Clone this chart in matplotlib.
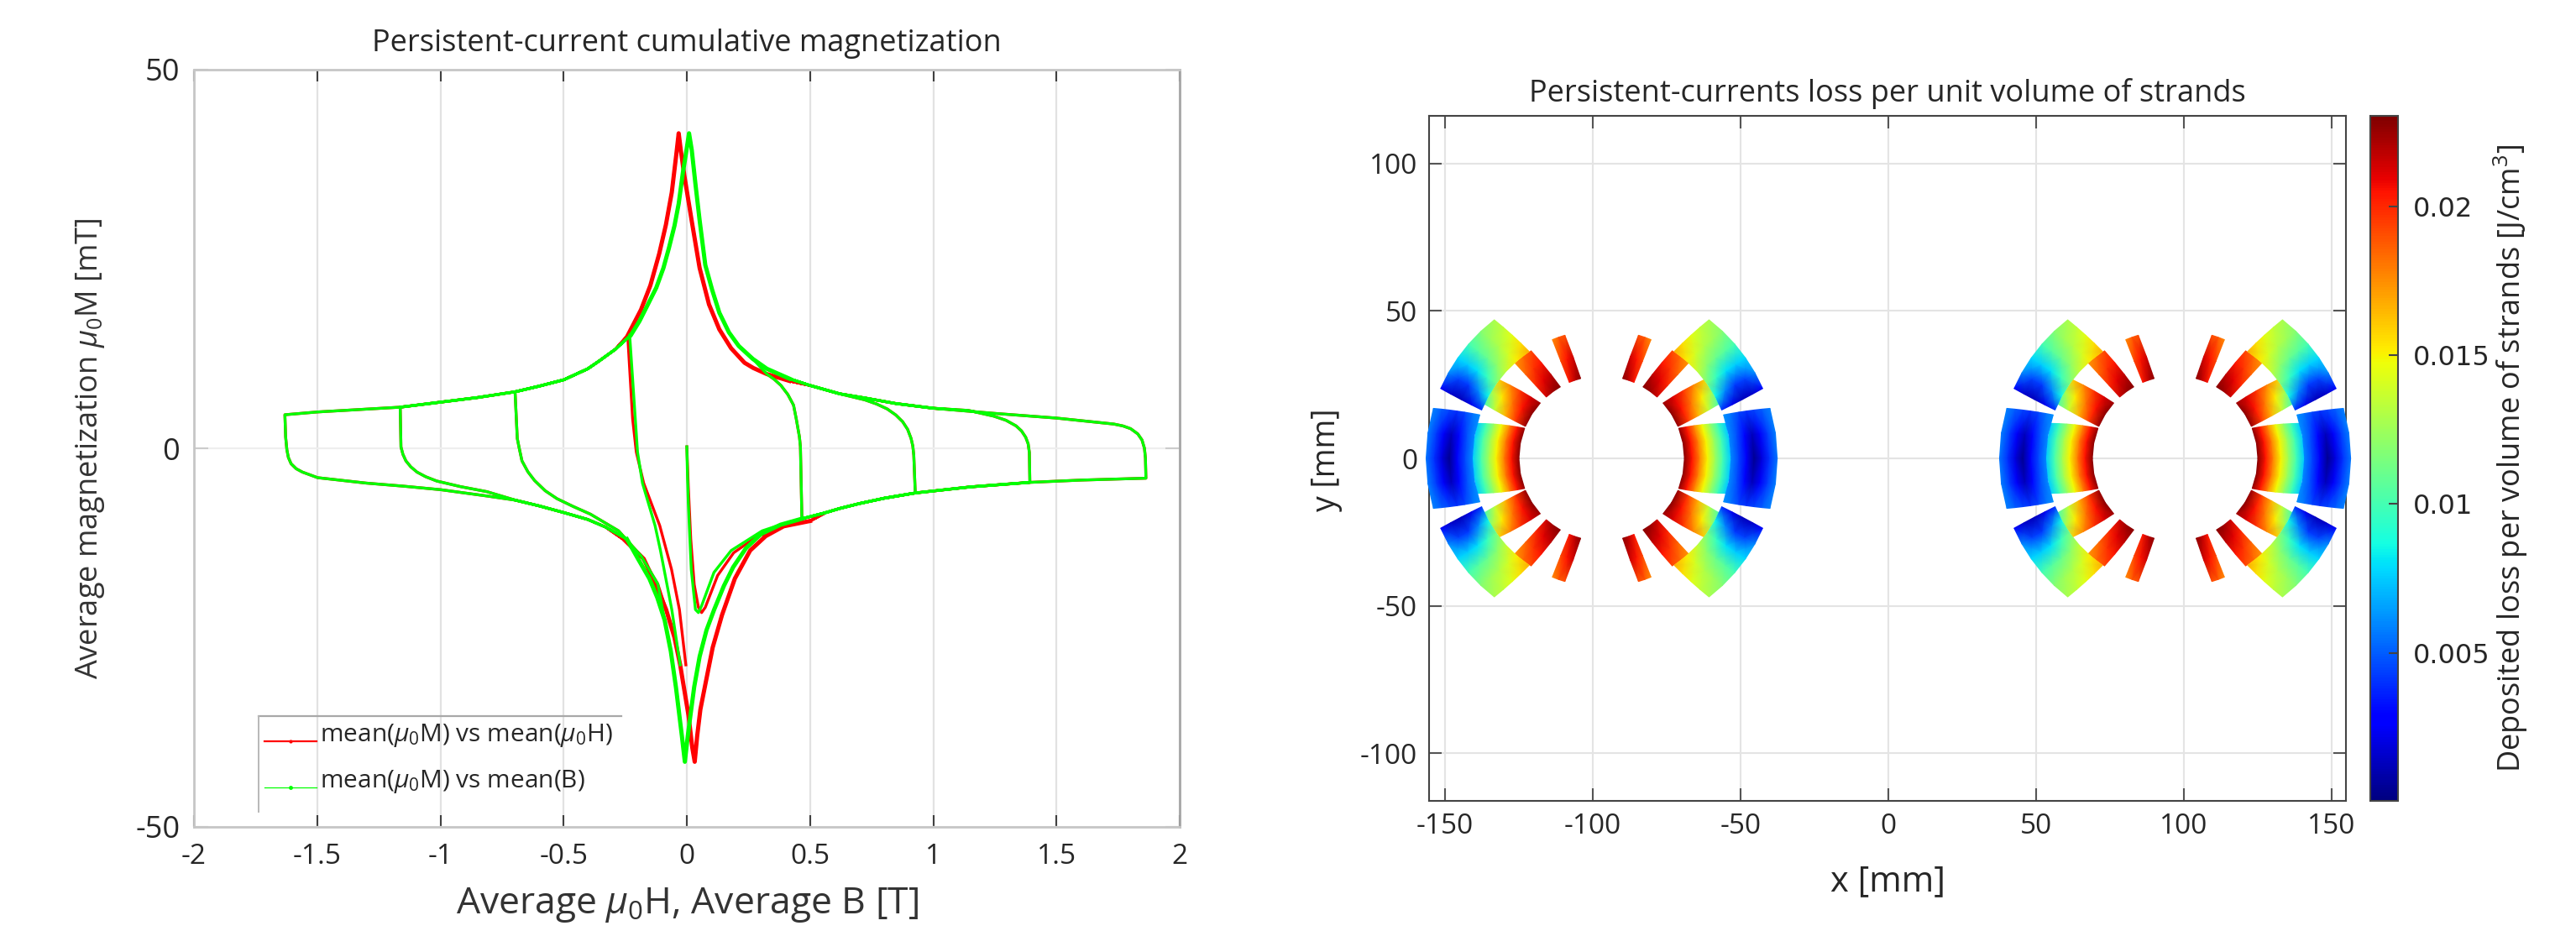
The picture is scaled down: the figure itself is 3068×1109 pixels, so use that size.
import numpy as np
import matplotlib
matplotlib.use('Agg')
import matplotlib.pyplot as plt
from matplotlib.ticker import FormatStrFormatter

plt.rcParams['font.family'] = ['Open Sans', 'DejaVu Sans']
plt.rcParams['axes.unicode_minus'] = False
plt.rcParams['mathtext.fontset'] = 'custom'
plt.rcParams['mathtext.rm'] = 'Open Sans'
plt.rcParams['mathtext.it'] = 'Open Sans:italic'
plt.rcParams['mathtext.default'] = 'regular'

W, H = 3068, 1109

# ---- magnetization loops [T], [mT]
# upper envelope, running right to left, outside the central peak
upper_right_x = [1.733, 1.5, 1.245, 1.0, 0.85, 0.722, 0.62, 0.5]
upper_right_y = [3.2, 3.99, 4.62, 5.29, 5.9, 6.65, 7.2, 8.3]
upper_left_x = [-0.289, -0.357, -0.402, -0.499, -0.6, -0.697, -0.85, -0.998, -1.163, -1.498, -1.631]
upper_left_y = [13.1, 11.5, 10.5, 9.05, 8.2, 7.46, 6.7, 6.1, 5.43, 4.8, 4.43]

# peak, right flank to left flank
peak_green_x = [0.416, 0.325, 0.268, 0.211, 0.171, 0.132, 0.103, 0.075, 0.052, 0.035, 0.02, 0.009, -0.005, -0.016,
                -0.033, -0.05, -0.073, -0.095, -0.124, -0.158, -0.192, -0.226]
peak_green_y = [9.2, 10.5, 11.8, 13.5, 15.3, 17.9, 20.9, 24.2, 30.1, 34.9, 39.4, 41.6, 38.6, 36.4,
                32.3, 29.4, 26.4, 23.8, 21.2, 19.0, 16.8, 15.0]
peak_red_x = [0.416, 0.325, 0.27, 0.234, 0.18, 0.132, 0.09, 0.052, 0.02, -0.01, -0.025, -0.033, -0.042, -0.061,
              -0.085, -0.112, -0.148, -0.186, -0.24]
peak_red_y = [8.9, 9.8, 10.6, 11.3, 13.2, 15.7, 19.0, 23.8, 30.0, 36.0, 39.5, 41.6, 39.0, 33.8,
              29.5, 25.7, 21.5, 18.3, 14.9]

# lower envelope, running left to right, outside the central valley
lower_left_x = [-1.498, -1.3, -1.15, -0.998, -0.811, -0.697, -0.6, -0.498, -0.402, -0.33]
lower_left_y = [-3.88, -4.6, -5.0, -5.47, -6.3, -6.84, -7.6, -8.5, -9.4, -10.4]
lower_right_x = [0.563, 0.62, 0.7, 0.8, 0.927, 1.15, 1.392, 1.6, 1.863]
lower_right_y = [-8.5, -7.95, -7.3, -6.6, -5.9, -5.1, -4.5, -4.2, -3.95]

# valley, left flank to right flank
valley_green_x = [-0.243, -0.198, -0.152, -0.12, -0.09, -0.065, -0.044, -0.02, -0.008, 0.002, 0.013, 0.03, 0.052,
                  0.08, 0.111, 0.15, 0.188, 0.24, 0.302, 0.38, 0.467]
valley_green_y = [-12.0, -14.6, -17.2, -19.7, -22.7, -26.8, -31.6, -38.0, -41.4, -38.5, -35.7, -31.5, -27.5,
                  -24.0, -21.3, -18.2, -15.7, -13.2, -11.3, -10.1, -9.3]
valley_red_x = [-0.25, -0.175, -0.13, -0.084, -0.05, -0.027, 0.007, 0.022, 0.032, 0.042, 0.055, 0.075, 0.105,
                0.143, 0.195, 0.257, 0.32, 0.393, 0.5]
valley_red_y = [-12.2, -14.6, -17.7, -21.3, -25.0, -28.6, -35.3, -39.5, -41.4, -38.0, -34.5, -31.2, -26.3,
                -22.0, -17.2, -13.5, -11.6, -10.3, -9.6]

# first magnetization up to the lower envelope
first_green_x = [0.0, 0.003, 0.006, 0.018, 0.035, 0.047, 0.06, 0.11, 0.18, 0.306]
first_green_y = [0.2, -4.0, -7.2, -16.0, -21.3, -21.7, -20.8, -16.4, -13.5, -10.9]
first_red_x = [0.0, 0.006, 0.016, 0.03, 0.047, 0.06, 0.075, 0.125, 0.19, 0.30]
first_red_y = [0.2, -5.0, -12.0, -18.0, -21.0, -21.7, -21.0, -16.8, -13.8, -11.3]

# reversal legs at each ramp end
leg_186_x = [1.863, 1.862, 1.861, 1.857, 1.847, 1.83, 1.801, 1.77, 1.733]
leg_186_y = [-3.95, -2.5, -1.3, 0.0, 1.1, 1.9, 2.59, 2.95, 3.2]
leg_139_x = [1.392, 1.39, 1.385, 1.375, 1.358, 1.336, 1.295, 1.245, 1.143]
leg_139_y = [-4.5, -0.55, 0.6, 1.47, 2.3, 2.96, 3.7, 4.25, 5.0]
leg_093_x = [0.927, 0.921, 0.917, 0.91, 0.896, 0.876, 0.848, 0.813, 0.77, 0.722]
leg_093_y = [-5.9, -0.92, 0.3, 1.3, 2.5, 3.5, 4.4, 5.2, 5.85, 6.4]
leg_047_x = [0.467, 0.461, 0.457, 0.444, 0.433, 0.41, 0.382, 0.355, 0.325]
leg_047_y = [-9.3, 0.2, 1.5, 3.9, 5.7, 7.1, 8.3, 9.1, 9.8]
leg_n163_x = [-1.631, -1.628, -1.623, -1.617, -1.606, -1.585, -1.56, -1.53, -1.498]
leg_n163_y = [4.43, 1.5, -0.18, -1.2, -2.03, -2.7, -3.14, -3.5, -3.88]
leg_n116_x = [-1.163, -1.16, -1.152, -1.14, -1.12, -1.095, -1.06, -1.015, -0.92, -0.811, -0.697]
leg_n116_y = [5.43, 0.18, -0.8, -1.66, -2.45, -3.14, -3.75, -4.32, -5.05, -5.73, -6.84]
leg_n070_x = [-0.697, -0.688, -0.68, -0.669, -0.645, -0.618, -0.575, -0.527, -0.46, -0.391, -0.277, -0.186, -0.118]
leg_n070_y = [7.46, 1.3, 0.0, -1.66, -3.1, -4.25, -5.6, -6.65, -7.7, -8.7, -10.9, -14.2, -17.9]
leg_n023_green_x = [-0.232, -0.209, -0.2, -0.18, -0.129, -0.107, -0.061, -0.027]
leg_n023_green_y = [15.0, 3.9, -0.5, -4.6, -10.2, -13.5, -21.3, -28.6]
leg_n023_red_x = [-0.24, -0.22, -0.205, -0.175, -0.11, -0.062, -0.03, -0.004]
leg_n023_red_y = [14.9, 3.9, -0.5, -4.6, -10.2, -16.0, -21.3, -28.6]

# ---- coil blocks, upper half of one half-aperture
# radii and block edge angles in mm and degrees from the midplane
inner_radii = (28.0, 43.6)
outer_radii = (43.8, 59.4)
block_a_angles = (0.0, 21.4, 0.0, 15.8)
block_b_angles = (22.8, 42.1, 24.9, 37.6)
block_c_angles = (48.0, 60.0, 47.8, 56.8)
block_d_angles = (67.0, 75.3, 67.5, 73.4)
block_e_angles = (0.0, 19.7, 0.0, 16.6)
block_f_angles = (22.0, 55.9, 23.5, 52.3)

# loss per unit volume, rows inner to outer radius, columns low to high angle
block_a_loss = [[.0228, .0228, .0226], [.0205, .0205, .0204], [.0178, .0178, .0176], [.0150, .0150, .0148],
                [.0125, .0125, .0122], [.0100, .0100, .0098], [.0075, .0075, .0075]]
block_b_loss = [[.0225, .0228, .0225], [.0195, .0205, .0212], [.0165, .0180, .0198], [.0135, .0152, .0178],
                [.0100, .0125, .0160]]
block_c_loss = [[.0215, .0225, .0229], [.0200, .0210, .0218], [.0185, .0197, .0205], [.0172, .0183, .0192]]
block_d_loss = [[.0205, .0218, .0228], [.0192, .0205, .0215], [.0175, .0188, .0190]]
block_e_loss = [[.0060, .0060, .0062], [.0045, .0047, .0055], [.0025, .0030, .0045], [.0004, .0012, .0040],
                [.0020, .0025, .0045], [.0040, .0043, .0050], [.0056, .0057, .0058]]
block_f_loss = [[.0040, .0085, .0115, .0135, .0152, .0168], [.0022, .0060, .0095, .0120, .0140, .0155],
                [.0012, .0042, .0080, .0110, .0130, .0145], [.0015, .0045, .0075, .0105, .0125, .0135],
                [.0030, .0060, .0078, .0100, .0118, .0128]]

aperture_x = [-97.0, 97.0]
loss_limits = (0.00003, 0.02304)

green = '#00ff00'
red = '#ff0000'


def ax_px(x0, y0, x1, y1):
    return fig.add_axes([x0 / W, 1 - y1 / H, (x1 - x0) / W, (y1 - y0) / H])


def loop_path(first, upper_r, peak, upper_l, lower_l, valley, lower_r, legs, last):
    """walk the ramps of decreasing amplitude and join the branches"""
    up_x = np.array(upper_r[0] + peak[0] + upper_l[0])
    up_y = np.array(upper_r[1] + peak[1] + upper_l[1])
    low_x = np.array(lower_l[0] + valley[0] + lower_r[0])
    low_y = np.array(lower_l[1] + valley[1] + lower_r[1])
    xs, ys = [first[0]], [first[1]]
    start = first[0][-1]
    for i, leg in enumerate(legs + [last]):
        if i % 2 == 0:
            m = (low_x > start) & (low_x < leg[0][0])
        else:
            m = (up_x < start) & (up_x > leg[0][0])
        xs.append((low_x if i % 2 == 0 else up_x)[m])
        ys.append((low_y if i % 2 == 0 else up_y)[m])
        xs.append(leg[0])
        ys.append(leg[1])
        start = leg[0][-1]
    return np.concatenate(xs), np.concatenate(ys)


def draw_block(ax, cx, side, radii, angles, loss):
    loss = np.array(loss)
    nr, na = loss.shape
    for sy in (1, -1):
        rr = np.linspace(radii[0], radii[1], nr)
        s = (rr - radii[0]) / (radii[1] - radii[0])
        X = np.zeros((nr, na))
        Y = np.zeros((nr, na))
        for i in range(nr):
            lo = angles[0] + (angles[2] - angles[0]) * s[i]
            hi = angles[1] + (angles[3] - angles[1]) * s[i]
            a = np.radians(np.linspace(lo, hi, na))
            X[i] = cx + side * rr[i] * np.cos(a)
            Y[i] = sy * rr[i] * np.sin(a)
        mesh = ax.pcolormesh(X, Y, loss, shading='gouraud', cmap='jet',
                             vmin=loss_limits[0], vmax=loss_limits[1], zorder=3, clip_on=False)
    return mesh


fig = plt.figure(figsize=(W / 100, H / 100), dpi=100)

# ---- left panel
ax1 = ax_px(231, 83, 1405, 985)
wings = dict(upper_r=(upper_right_x, upper_right_y), upper_l=(upper_left_x, upper_left_y),
             lower_l=(lower_left_x, lower_left_y), lower_r=(lower_right_x, lower_right_y))
legs_all = [(leg_186_x, leg_186_y), (leg_n163_x, leg_n163_y), (leg_139_x, leg_139_y), (leg_n116_x, leg_n116_y),
            (leg_093_x, leg_093_y), (leg_n070_x, leg_n070_y), (leg_047_x, leg_047_y)]
rx, ry = loop_path((first_red_x, first_red_y), peak=(peak_red_x, peak_red_y), valley=(valley_red_x, valley_red_y),
                   legs=legs_all, last=(leg_n023_red_x, leg_n023_red_y), **wings)
gx, gy = loop_path((first_green_x, first_green_y), peak=(peak_green_x, peak_green_y),
                   valley=(valley_green_x, valley_green_y),
                   legs=legs_all, last=(leg_n023_green_x, leg_n023_green_y), **wings)
ax1.plot(rx, ry, color=red, lw=2.4, solid_joinstyle='round', zorder=3)
# the central part is traced many times in the original, hence thicker
ax1.plot(peak_red_x, peak_red_y, color=red, lw=3.6, solid_joinstyle='round', zorder=3)
ax1.plot(valley_red_x, valley_red_y, color=red, lw=3.6, solid_joinstyle='round', zorder=3)
ax1.plot(gx, gy, color=green, lw=2.4, solid_joinstyle='round', zorder=4)
ax1.plot(peak_green_x, peak_green_y, color=green, lw=3.6, solid_joinstyle='round', zorder=4)
ax1.plot(valley_green_x, valley_green_y, color=green, lw=3.6, solid_joinstyle='round', zorder=4)

ax1.set_xlim(-2, 2)
ax1.set_ylim(-50, 50)
ax1.set_xticks(np.arange(-2, 2.01, 0.5))
ax1.set_yticks([-50, 0, 50])
ax1.xaxis.set_major_formatter(FormatStrFormatter('%g'))
ax1.grid(True, axis='x', color='#e2e2e2', lw=1.6)
ax1.grid(True, axis='y', color='#eeeeee', lw=1.6)
ax1.set_axisbelow(True)
ax1.tick_params(axis='x', direction='in', top=True, length=10, width=1.5, color='#404040', labelsize=24, pad=14,
                labelcolor='#262626')
ax1.tick_params(axis='y', direction='in', right=True, length=12, width=1.5, color='#cccccc', labelsize=26, pad=12,
                labelcolor='#262626')
for name, sp in ax1.spines.items():
    sp.set_color('#a6a6a6' if name == 'right' else '#c6c6c6')
    sp.set_linewidth(2)
ax1.set_title('Persistent-current cumulative magnetization', fontsize=26, color='#262626', pad=16)
fig.text(819 / W, 1 - 1078 / H, r'Average $\mathit{\mu}_0$H, Average B [T]', fontsize=32, color='#333333',
         ha='center', va='center')
fig.text(108 / W, 1 - 534 / H, r'Average magnetization $\mathit{\mu}_0$M [mT]', fontsize=26, color='#333333',
         rotation=90, ha='center', va='center')

# legend with only its top and left edges, as in the original
to_ax = lambda px, py: ((px - 231) / 1174, (985 - py) / 902)
leg_tr = ax1.transAxes
ax1.plot(*zip(to_ax(308, 853), to_ax(740, 853)), transform=leg_tr, color='#a8a8a8', lw=1.6, zorder=5, clip_on=False)
ax1.plot(*zip(to_ax(308, 853), to_ax(308, 967)), transform=leg_tr, color='#b8b8b8', lw=1.4, zorder=5, clip_on=False)
ax1.plot(*zip(to_ax(315, 883), to_ax(377, 883)), transform=leg_tr, color=red, lw=1.6, zorder=5)
ax1.plot(*zip(to_ax(315, 938), to_ax(377, 938)), transform=leg_tr, color=green, lw=0.9, zorder=5)
ax1.plot(*to_ax(346, 883), transform=leg_tr, marker='.', color=red, ms=4, zorder=5)
ax1.plot(*to_ax(346, 938), transform=leg_tr, marker='.', color=green, ms=5, zorder=5)
ax1.text(*to_ax(381, 876), r'mean($\mathit{\mu}_0$M) vs mean($\mathit{\mu}_0$H)', transform=leg_tr, fontsize=21.5,
         color='#262626', va='center', zorder=6)
ax1.text(*to_ax(381, 931), r'mean($\mathit{\mu}_0$M) vs mean(B)', transform=leg_tr, fontsize=21.5,
         color='#262626', va='center', zorder=6)

# ---- right panel
ax2 = ax_px(1702, 138, 2794, 954)
blocks = [(inner_radii, block_a_angles, block_a_loss), (inner_radii, block_b_angles, block_b_loss),
          (inner_radii, block_c_angles, block_c_loss), (inner_radii, block_d_angles, block_d_loss),
          (outer_radii, block_e_angles, block_e_loss), (outer_radii, block_f_angles, block_f_loss)]
for cx in aperture_x:
    for side in (-1, 1):
        for radii, angles, loss in blocks:
            mesh = draw_block(ax2, cx, side, radii, angles, loss)
ax2.set_xlim(-155.4, 154.8)
ax2.set_ylim(-116.2, 116.2)
ax2.set_xticks(np.arange(-150, 151, 50))
ax2.set_yticks(np.arange(-100, 101, 50))
ax2.grid(True, color='#e4e4e4', lw=1.5)
ax2.set_axisbelow(True)
ax2.tick_params(direction='in', top=True, right=True, length=11, width=1.5, color='#555555', labelsize=24,
                labelcolor='#262626', pad=10)
for sp in ax2.spines.values():
    sp.set_color('#444444')
    sp.set_linewidth(1.5)
ax2.set_title('Persistent-currents loss per unit volume of strands', fontsize=26, color='#262626', pad=12)
fig.text(2248 / W, 1 - 1050 / H, 'x [mm]', fontsize=30, color='#262626', ha='center', va='center')
fig.text(1580 / W, 1 - 548 / H, 'y [mm]', fontsize=27, color='#262626', rotation=90, ha='center', va='center')

# ---- colorbar
cax = ax_px(2823, 138, 2856, 954)
cb = fig.colorbar(mesh, cax=cax)
cb.set_ticks([0.005, 0.01, 0.015, 0.02])
cb.set_ticklabels(['0.005', '0.01', '0.015', '0.02'])
cb.ax.tick_params(direction='in', length=8, width=1.5, color='#444444', labelsize=23, pad=13, labelcolor='#262626')
for t in cb.ax.get_yticklabels():
    t.set_family('DejaVu Sans')
cb.outline.set_edgecolor('#444444')
cb.outline.set_linewidth(1.5)
fig.text(2990 / W, 1 - 546 / H, 'Deposited loss per volume of strands [J/cm$^3$]', fontsize=26,
         color='#262626', rotation=90, ha='center', va='center')

fig.savefig('out.png', dpi=100, facecolor='white')
